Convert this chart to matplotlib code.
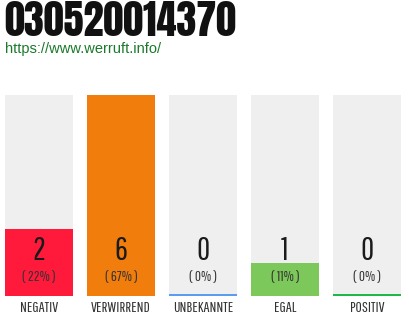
import matplotlib
matplotlib.use("Agg")
import matplotlib.pyplot as plt

title = "030520014370"
url = "https://www.werruft.info/"
categories = ["NEGATIV", "VERWIRREND", "UNBEKANNTE", "EGAL", "POSITIV"]
values = [2, 6, 0, 1, 0]
percents = ["22%", "67%", "0%", "11%", "0%"]
colors = ["#ff1a3c", "#f07d0c", "#5b9cf0", "#7cc85a", "#1fb84a"]

TITLE_FONT = ["Anton", "Bebas Neue", "Oswald", "DejaVu Sans"]
LABEL_FONT = ["Pathway Gothic One", "Barlow Condensed", "DejaVu Sans"]

W, H = 410, 320
fig = plt.figure(figsize=(W / 100, H / 100), dpi=100)
ax = fig.add_axes([0, 0, 1, 1])
ax.set_xlim(0, W)
ax.set_ylim(H, 0)
ax.axis("off")

x0, step, bw = 5, 82, 68
top, bottom = 95, 296
vmax = max(values)
full = bottom - top
for i, (v, c) in enumerate(zip(values, colors)):
    x = x0 + i * step
    ax.bar(x, -full, bottom=bottom, width=bw, align="edge", color="#efefef", linewidth=0)
    if v > 0:
        h = v / vmax * full
        ax.bar(x, -h, bottom=bottom, width=bw, align="edge", color=c, linewidth=0)
    else:
        ax.bar(x, -2, bottom=bottom, width=bw, align="edge", color=c, linewidth=0)
    cx = x + bw / 2
    ax.text(cx, 251, str(v), ha="center", va="center", fontsize=23,
            family=LABEL_FONT, color="#1a1a1a")
    ax.text(cx, 277, f"( {percents[i]} )", ha="center", va="center", fontsize=10.5,
            family=LABEL_FONT, color="#333333")
    ax.text(cx, 308, categories[i], ha="center", va="center", fontsize=11,
            family=LABEL_FONT, color="#333333")

ax.text(4, 21.5, title, ha="left", va="center", fontsize=29, family=TITLE_FONT,
        color="#111111")
ax.text(5, 49, url, ha="left", va="center", fontsize=10.5, family=["Liberation Sans", "DejaVu Sans"],
        color="#1a7a2a")

fig.savefig("out.png", dpi=100)
